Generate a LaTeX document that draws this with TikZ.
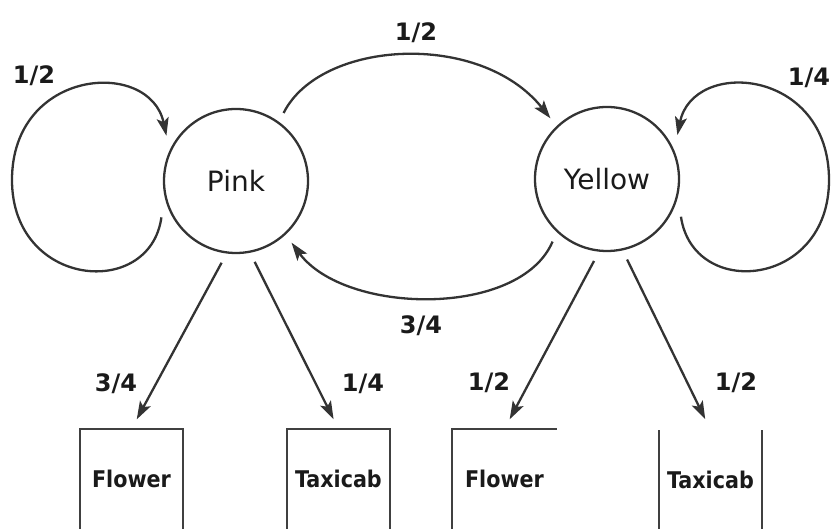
\documentclass[tikz,border=0pt]{standalone}
\usepackage{fontspec}
\setmainfont{DejaVu Sans}
\newfontfamily\condfont{DejaVu Sans Condensed}
\usetikzlibrary{arrows.meta}
\definecolor{lc}{HTML}{333333}
\definecolor{bc}{HTML}{404040}
\definecolor{tc}{HTML}{1A1A1A}
\begin{document}
\begin{tikzpicture}[x=1pt,y=-1pt,
  ln/.style={draw=lc, line width=2.3pt},
  arr/.style={ln, -{Stealth[length=18pt,width=12pt,inset=4pt]}},
  state/.style={circle, ln, minimum size=144pt, inner sep=0pt, outer sep=11pt, text=tc, font=\fontsize{28}{28}\selectfont},
  prob/.style={font=\bfseries\fontsize{24}{24}\selectfont, text=tc, inner sep=0pt, text height=17.5pt, text depth=0pt},
  outbox/.style={rectangle, minimum height=100pt, inner sep=0pt, outer sep=0pt, anchor=north, text=tc, font=\condfont\bfseries\fontsize{23}{23}\selectfont},
  boxln/.style={draw=bc, line width=2.4pt}
]
\useasboundingbox (0,0) rectangle (832,529);

% states
\node[state] (pink) at (236,181) {Pink};
\node[state] (yellow) at (607,179) {Yellow};

% outcome boxes
\node[outbox, minimum width=103pt] (f1) at (131.5,429) {Flower};
\node[outbox, minimum width=103pt] (t1) at (338.5,429) {Taxicab};
\node[outbox, minimum width=105pt] (f2) at (504.5,429) {Flower};
\node[outbox, minimum width=103pt] (t2) at (710.5,430) {Taxicab};

\draw[boxln] (f1.south west) -- (f1.north west) -- (f1.north east) -- (f1.south east);
\draw[boxln] (t1.south west) -- (t1.north west) -- (t1.north east) -- (t1.south east);
\draw[boxln] (f2.south west) -- (f2.north west) -- (f2.north east);
\draw[boxln] (t2.south west) -- (t2.north west) (t2.north east) -- (t2.south east);

% self loops
\draw[arr] (pink.206) .. controls (150,300) and (12,288) .. (12,180)
                     .. controls (12,68) and (150,58) .. (pink.147);
\draw[arr] (yellow.333) .. controls (693,300) and (829,288) .. (829,180)
                       .. controls (829,68) and (693,58) .. (yellow.32);

% transitions between states
\draw[arr] (pink.55) .. controls (320,40) and (480,30) .. (yellow.133);
\draw[arr] (yellow.229) .. controls (520,318) and (345,315) .. (pink.312);

% emissions
\draw[arr, shorten >=11pt] (pink.260) -- (f1.north);
\draw[arr, shorten >=11pt] (pink.283) -- (t1.north);
\draw[arr, shorten >=11pt] (yellow.261) -- (f2.north);
\draw[arr, shorten >=12pt] (yellow.284) -- (t2.north);

% probabilities
\node[prob] (l1) at (34,75) {1/2};
\node[prob] (l2) at (416,32) {1/2};
\node[prob] (l3) at (809,77) {1/4};
\node[prob] (l4) at (421,325) {3/4};
\node[prob] (l5) at (116,383) {3/4};
\node[prob] (l6) at (363,383) {1/4};
\node[prob] (l7) at (489,382) {1/2};
\node[prob] (l8) at (736,382) {1/2};
\end{tikzpicture}
\end{document}
